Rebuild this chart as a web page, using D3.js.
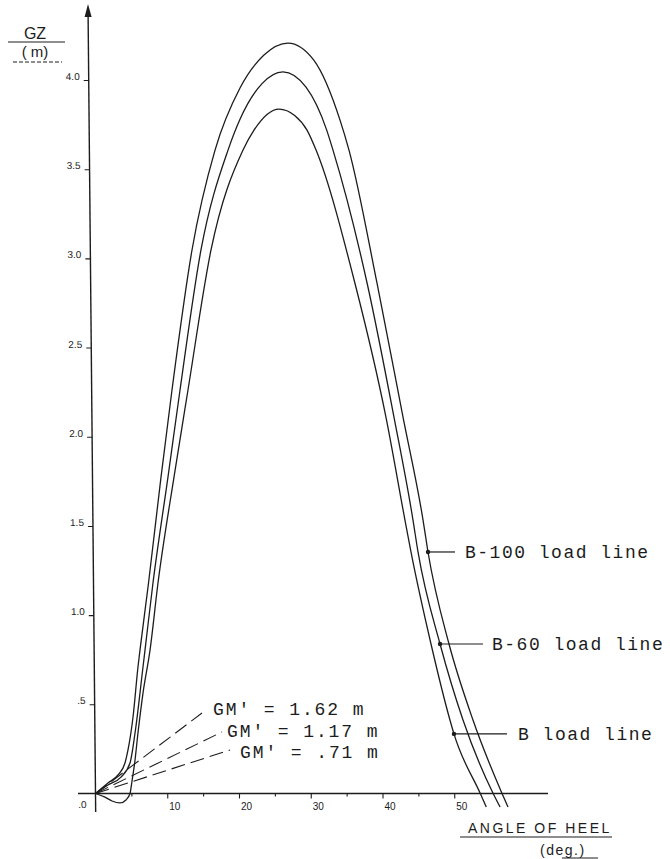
<!DOCTYPE html>
<html><head><meta charset="utf-8">
<script src="https://cdn.jsdelivr.net/npm/d3@7"></script>
<style>
html,body{margin:0;padding:0;background:#fff;}
svg{display:block;}
</style></head>
<body>
<svg id="chart" width="670" height="859"></svg>
<script>
// ---- data ----
const seriesNames = ["B-100 load line", "B-60 load line", "B load line"];

const b100Angle = [0, 1.74, 3.14, 4.11, 4.53, 5.23, 5.92, 6.20, 7.39, 9.13, 10.66, 13.45, 16.66, 20.14, 23.48, 26.83, 30.45, 34.08, 35.33, 39.23, 42.86, 45.65, 46.34, 49.27, 52.61, 56.66, 57.49];
const b100GZ    = [0, 0.059, 0.104, 0.171, 0.244, 0.429, 0.709, 0.804, 1.180, 1.774, 2.262, 3.047, 3.607, 3.955, 4.140, 4.207, 4.110, 3.775, 3.607, 2.862, 2.110, 1.533, 1.354, 0.838, 0.412, 0, -0.076];

const b60Angle = [0, 1.74, 3.55, 4.81, 5.51, 6.62, 6.90, 8.01, 10.10, 11.78, 14.70, 18.47, 20.14, 23.21, 26.13, 29.34, 32.20, 33.10, 37.85, 41.60, 44.25, 44.95, 48.02, 51.22, 55.42, 56.39];
const b60GZ    = [0, 0.048, 0.092, 0.171, 0.339, 0.709, 0.804, 1.180, 1.774, 2.262, 3.047, 3.607, 3.780, 3.980, 4.046, 3.960, 3.722, 3.607, 2.862, 2.110, 1.533, 1.354, 0.838, 0.412, 0, -0.076];

const bAngle = [0, 1.32, 2.30, 3.41, 4.25, 4.81, 5.09, 5.51, 5.92, 6.62, 7.60, 8.71, 10.94, 12.89, 16.10, 20.56, 22.09, 25.57, 27.80, 29.48, 30.74, 36.15, 40.48, 43.13, 43.97, 46.76, 49.40, 49.96, 53.63, 54.47];
const bGZ    = [0, -0.020, -0.042, -0.053, -0.036, 0, 0.070, 0.188, 0.339, 0.563, 0.804, 1.180, 1.774, 2.262, 3.047, 3.607, 3.719, 3.837, 3.800, 3.719, 3.607, 2.862, 2.110, 1.533, 1.354, 0.838, 0.412, 0.334, 0, -0.076];

// label marker points on each curve (angle, GZ)
const markerAngle = [46.34, 48.02, 49.96];
const markerGZ    = [1.354, 0.838, 0.334];

// initial-slope (GM') tangent lines
const gmLabels   = ["GM' = 1.62 m", "GM' = 1.17 m", "GM' = .71 m"];
const gmEndAngle = [14.84, 17.63, 18.75];
const gmEndGZ    = [0.451, 0.345, 0.244];

// axes
const xTickValues = [5, 10, 15, 20, 25, 30, 35, 40, 45, 50];
const xTickLabels = ["", "10", "", "20", "", "30", "", "40", "", "50"];
const yTickValues = [0, 0.5, 1.0, 1.5, 2.0, 2.5, 3.0, 3.5, 4.0];
const yTickLabels = [".0", ".5", "1.0", "1.5", "2.0", "2.5", "3.0", "3.5", "4.0"];

// ---- drawing ----
const svg = d3.select("#chart");
const ink = "#1c1c1c";
const x = d3.scaleLinear().domain([0, 50]).range([95.5, 454.25]);
const y = d3.scaleLinear().domain([0, 4]).range([793.5, 80]);

// X axis
const xAxis = d3.axisBottom(x)
  .tickValues(xTickValues)
  .tickSize(4)
  .tickSizeOuter(0)
  .tickFormat((d, i) => xTickLabels[i]);
const gx = svg.append("g").attr("transform", `translate(0,${y(0)})`).call(xAxis);
gx.select(".domain").remove();
gx.selectAll(".tick line").attr("stroke", ink).attr("stroke-width", 1.1)
  .attr("y2", (d, i) => xTickLabels[i] ? 5 : 3);
gx.selectAll(".tick text")
  .attr("fill", ink).attr("font-family", "Liberation Sans, Arial, sans-serif")
  .attr("font-size", 10).attr("dx", 7).attr("y", 9);
svg.append("line")
  .attr("x1", 78).attr("x2", 548).attr("y1", y(0)).attr("y2", y(0))
  .attr("stroke", ink).attr("stroke-width", 1.3);

// Y axis (slightly tilted like the scanned original)
const gyWrap = svg.append("g")
  .attr("transform", `translate(${x(0)},${y(0)}) skewX(0.545) translate(0,${-y(0)})`);
const yAxis = d3.axisLeft(y)
  .tickValues(yTickValues)
  .tickSize(5)
  .tickSizeOuter(0)
  .tickFormat((d, i) => yTickLabels[i]);
const gy = gyWrap.append("g").call(yAxis);
gy.select(".domain").remove();
gy.selectAll(".tick line").attr("stroke", ink).attr("stroke-width", 1.1)
  .attr("x2", d => d === 0 ? 0 : -5);
gy.selectAll(".tick text")
  .attr("fill", ink).attr("font-family", "Liberation Sans, Arial, sans-serif")
  .attr("font-size", 10).attr("x", -9).attr("dy", d => d === 0 ? "1.45em" : "-0.05em");
gyWrap.append("line")
  .attr("x1", 0).attr("x2", 0).attr("y1", 812).attr("y2", 14)
  .attr("stroke", ink).attr("stroke-width", 1.4);
gyWrap.append("path")
  .attr("d", "M0,4 L-3.5,17 L3.5,17 Z")
  .attr("fill", ink);

// Axis titles
svg.append("text").attr("x", 35).attr("y", 39).attr("text-anchor", "middle")
  .attr("font-family", "Liberation Sans, Arial, sans-serif").attr("font-size", 16)
  .attr("fill", ink).text("GZ");
svg.append("line").attr("x1", 8).attr("x2", 65).attr("y1", 42).attr("y2", 42)
  .attr("stroke", ink).attr("stroke-width", 1);
svg.append("text").attr("x", 35).attr("y", 57).attr("text-anchor", "middle")
  .attr("font-family", "Liberation Sans, Arial, sans-serif").attr("font-size", 15)
  .attr("fill", ink).attr("xml:space", "preserve").text("( m)");
svg.append("line").attr("x1", 13).attr("x2", 62).attr("y1", 62).attr("y2", 62)
  .attr("stroke", ink).attr("stroke-width", 1).attr("stroke-dasharray", "4,2");

svg.append("text").attr("x", 468).attr("y", 833)
  .attr("font-family", "Liberation Sans, Arial, sans-serif").attr("font-size", 14)
  .attr("letter-spacing", 2.5).attr("fill", ink).text("ANGLE OF HEEL");
svg.append("line").attr("x1", 460).attr("x2", 612).attr("y1", 837).attr("y2", 837)
  .attr("stroke", ink).attr("stroke-width", 1.2);
svg.append("text").attr("x", 540).attr("y", 855)
  .attr("font-family", "Liberation Sans, Arial, sans-serif").attr("font-size", 14)
  .attr("letter-spacing", 1.5).attr("fill", ink).text("(deg.)");
svg.append("line").attr("x1", 562).attr("x2", 598).attr("y1", 858).attr("y2", 858)
  .attr("stroke", ink).attr("stroke-width", 1);

// Curves
const line = d3.line().x(d => x(d[0])).y(d => y(d[1])).curve(d3.curveMonotoneX);
const series = [
  d3.zip(b100Angle, b100GZ),
  d3.zip(b60Angle, b60GZ),
  d3.zip(bAngle, bGZ)
];
svg.append("g").selectAll("path").data(series).join("path")
  .attr("d", line).attr("fill", "none").attr("stroke", ink).attr("stroke-width", 1.3);

// GM' tangent lines
const gmData = gmLabels.map((t, i) => ({t, a: gmEndAngle[i], g: gmEndGZ[i]}));
svg.append("g").selectAll("line").data(gmData).join("line")
  .attr("x1", x(0)).attr("y1", y(0))
  .attr("x2", d => x(d.a)).attr("y2", d => y(d.g))
  .attr("stroke", ink).attr("stroke-width", 1.1).attr("stroke-dasharray", "14,6");
const gmTextX = [213, 227, 240];
const gmTextY = [715, 737, 758];
svg.append("g").selectAll("text").data(gmData).join("text")
  .attr("x", (d, i) => gmTextX[i]).attr("y", (d, i) => gmTextY[i])
  .attr("font-family", "Liberation Mono, Courier New, monospace").attr("font-size", 18)
  .attr("letter-spacing", 1.9).attr("fill", ink).attr("xml:space", "preserve")
  .text(d => d.t);

// Load-line labels
const lab = seriesNames.map((n, i) => ({n, a: markerAngle[i], g: markerGZ[i]}));
const leaderEnd = [455, 483, 507];
const labelX = [465, 492, 518];
const gl = svg.append("g");
gl.selectAll("circle").data(lab).join("circle")
  .attr("cx", d => x(d.a)).attr("cy", d => y(d.g)).attr("r", 2.2).attr("fill", ink);
gl.selectAll("line").data(lab).join("line")
  .attr("x1", d => x(d.a)).attr("y1", d => y(d.g))
  .attr("x2", (d, i) => leaderEnd[i]).attr("y2", d => y(d.g))
  .attr("stroke", ink).attr("stroke-width", 1.2);
gl.selectAll("text").data(lab).join("text")
  .attr("x", (d, i) => labelX[i]).attr("y", d => y(d.g) + 6)
  .attr("font-family", "Liberation Mono, Courier New, monospace").attr("font-size", 18)
  .attr("letter-spacing", 1.5).attr("fill", ink)
  .text(d => d.n);
</script>
</body></html>
